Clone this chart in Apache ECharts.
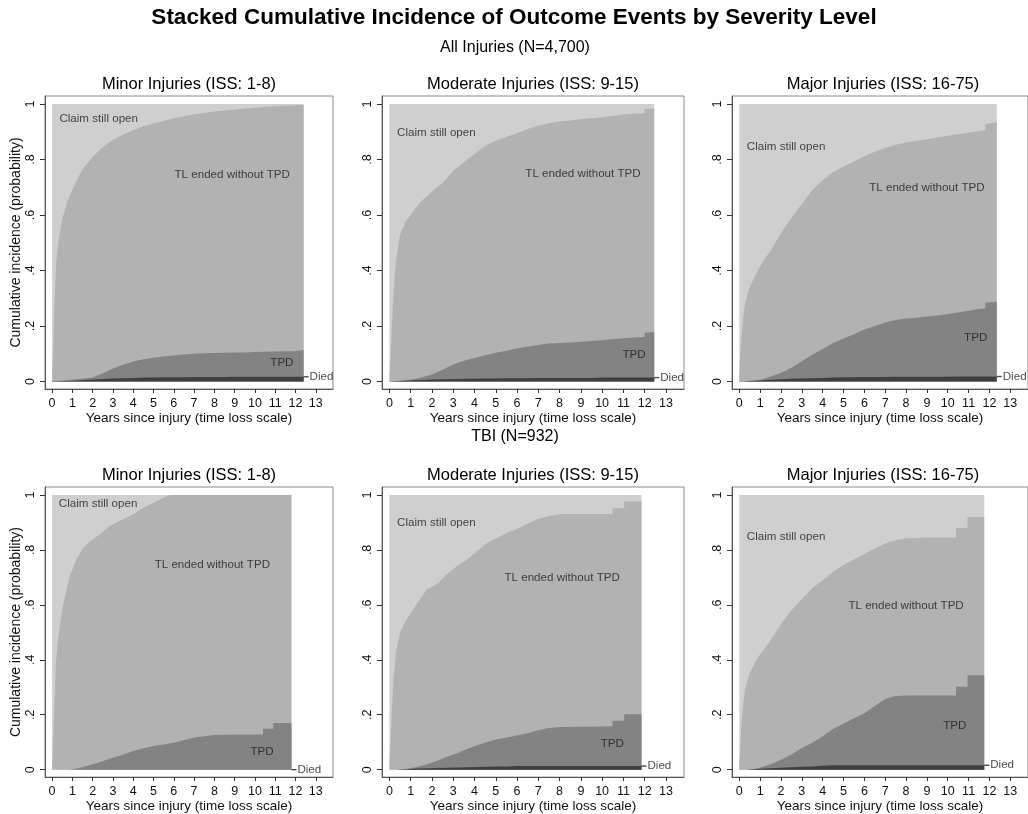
<!DOCTYPE html>
<html><head><meta charset="utf-8">
<script src="https://cdn.jsdelivr.net/npm/echarts@6/dist/echarts.min.js"></script>
<style>html,body{margin:0;padding:0;background:#fff}#c{width:1028px;height:814px}</style>
</head><body><div id="c"></div>
<script>
// ---------- text ----------
const mainTitle = 'Stacked Cumulative Incidence of Outcome Events by Severity Level';
const groupTitles = ['All Injuries (N=4,700)', 'TBI (N=932)'];
const panelTitles = ['Minor Injuries (ISS: 1-8)', 'Moderate Injuries (ISS: 9-15)', 'Major Injuries (ISS: 16-75)',
                     'Minor Injuries (ISS: 1-8)', 'Moderate Injuries (ISS: 9-15)', 'Major Injuries (ISS: 16-75)'];
const layerNames = ['Claim still open', 'TL ended without TPD', 'TPD', 'Died'];
const xAxisTitle = 'Years since injury (time loss scale)';
const yAxisTitle = 'Cumulative incidence (probability)';
const xTicks = [0,1,2,3,4,5,6,7,8,9,10,11,12,13];
const yTicks = [0, 0.2, 0.4, 0.6, 0.8, 1];
const yTickLabels = ['0', '.2', '.4', '.6', '.8', '1'];

// ---------- data: cumulative boundaries (top of each stacked layer) ----------
// All injuries, minor
const allMinorT    = [0,0.05,0.1,0.2,0.3,0.5,0.75,1,1.25,1.5,2,2.5,3,3.5,4,4.5,5,5.5,6,6.5,7,7.5,8,8.5,9,9.5,10,10.5,11,11.5,11.9,11.9,12.4];
const allMinorTL   = [0.02,0.1,0.25,0.43,0.5,0.585,0.65,0.69,0.73,0.765,0.81,0.845,0.87,0.89,0.906,0.92,0.93,0.94,0.949,0.956,0.963,0.968,0.973,0.977,0.98,0.984,0.987,0.99,0.992,0.994,0.995,0.996,0.997];
const allMinorTPD  = [0.002,0.002,0.003,0.003,0.003,0.004,0.005,0.006,0.008,0.01,0.014,0.03,0.047,0.06,0.072,0.08,0.086,0.09,0.094,0.097,0.1,0.102,0.103,0.104,0.105,0.105,0.106,0.107,0.108,0.109,0.109,0.114,0.114];
const allMinorDied = [0,0,0.001,0.001,0.001,0.002,0.002,0.003,0.004,0.005,0.007,0.009,0.011,0.012,0.013,0.014,0.014,0.015,0.015,0.015,0.016,0.016,0.016,0.016,0.017,0.017,0.017,0.017,0.017,0.017,0.017,0.017,0.017];
// All injuries, moderate
const allModT    = [0,0.05,0.1,0.2,0.3,0.5,0.75,1,1.25,1.5,2,2.5,3,3.5,4,4.5,5,5.5,6,6.5,7,7.5,8,8.5,9,9.5,10,10.5,11,11.5,12,12,12.45];
const allModTL   = [0.02,0.08,0.18,0.33,0.43,0.53,0.575,0.6,0.627,0.65,0.685,0.715,0.76,0.79,0.82,0.85,0.868,0.882,0.895,0.91,0.922,0.931,0.938,0.941,0.945,0.949,0.952,0.957,0.962,0.965,0.967,0.982,0.984];
const allModTPD  = [0.002,0.002,0.002,0.002,0.002,0.003,0.005,0.007,0.01,0.014,0.025,0.042,0.061,0.075,0.085,0.095,0.104,0.111,0.119,0.126,0.132,0.137,0.139,0.141,0.143,0.146,0.149,0.153,0.156,0.159,0.16,0.176,0.178];
const allModDied = [0,0,0,0.001,0.001,0.002,0.003,0.004,0.005,0.005,0.007,0.008,0.009,0.01,0.01,0.011,0.011,0.012,0.012,0.012,0.013,0.013,0.013,0.013,0.013,0.013,0.014,0.014,0.014,0.014,0.014,0.014,0.014];
// All injuries, major
const allMajT    = [0,0.05,0.1,0.2,0.3,0.5,0.75,1,1.25,1.5,2,2.5,3,3.5,4,4.5,5,5.5,6,6.5,7,7.5,8,8.5,9,9.5,10,10.5,11,11.5,11.8,11.8,12.35];
const allMajTL   = [0.02,0.1,0.16,0.24,0.29,0.34,0.38,0.415,0.445,0.47,0.535,0.59,0.64,0.69,0.725,0.755,0.775,0.793,0.812,0.828,0.842,0.853,0.861,0.868,0.873,0.879,0.886,0.891,0.897,0.903,0.905,0.927,0.935];
const allMajTPD  = [0.002,0.002,0.002,0.002,0.002,0.003,0.004,0.006,0.012,0.018,0.031,0.05,0.073,0.096,0.117,0.139,0.155,0.17,0.187,0.2,0.213,0.222,0.227,0.23,0.234,0.238,0.243,0.249,0.255,0.261,0.263,0.285,0.287];
const allMajDied = [0,0,0,0,0.001,0.002,0.003,0.004,0.005,0.006,0.008,0.01,0.011,0.012,0.013,0.014,0.015,0.015,0.016,0.016,0.016,0.017,0.017,0.017,0.017,0.017,0.017,0.018,0.018,0.018,0.018,0.018,0.018];
// TBI, minor
const tbiMinorT    = [0,0.05,0.1,0.18,0.29,0.54,0.87,1.2,1.52,1.85,2.34,2.83,3.3,3.97,4.46,4.95,5.44,5.77,6,7,8,9,10,10.4,10.4,10.9,10.9,11.8];
const tbiMinorTL   = [0.02,0.1,0.21,0.38,0.477,0.6,0.705,0.765,0.807,0.83,0.856,0.886,0.904,0.928,0.952,0.97,0.988,0.999,1,1,1,1,1,1,1,1,1,1];
const tbiMinorTPD  = [0,0,0,0,0,0,0,0.004,0.01,0.016,0.027,0.04,0.05,0.067,0.077,0.085,0.091,0.095,0.098,0.117,0.126,0.128,0.128,0.128,0.149,0.149,0.17,0.17];
const tbiMinorDied = [0,0,0,0,0,0,0,0,0,0,0,0,0,0,0,0,0,0,0,0,0,0,0,0,0,0,0,0];
// TBI, moderate
const tbiModT    = [0,0.05,0.11,0.19,0.31,0.5,0.82,1.29,1.76,2.23,2.7,3.18,3.65,4.12,4.6,5.06,5.53,6,6.48,6.95,7.42,8.05,9,10.49,10.49,11.04,11.04,11.85];
const tbiModTL   = [0.02,0.1,0.21,0.33,0.43,0.5,0.549,0.603,0.657,0.675,0.711,0.741,0.765,0.795,0.825,0.844,0.862,0.876,0.895,0.912,0.922,0.931,0.931,0.931,0.952,0.952,0.976,0.976];
const tbiModTPD  = [0,0,0,0,0,0.001,0.003,0.01,0.02,0.032,0.047,0.06,0.075,0.089,0.101,0.111,0.117,0.124,0.133,0.143,0.151,0.155,0.156,0.158,0.178,0.178,0.202,0.202];
const tbiModDied = [0,0,0,0,0,0.001,0.002,0.004,0.005,0.006,0.007,0.008,0.009,0.01,0.011,0.012,0.012,0.013,0.013,0.013,0.013,0.013,0.013,0.013,0.013,0.013,0.013,0.013];
// TBI, major
const tbiMajT    = [0,0.05,0.1,0.2,0.3,0.5,0.75,1,1.5,2,2.5,3,3.5,4,4.5,5,5.5,6,6.5,7,7.5,8,9,10.4,10.4,10.95,10.95,11.75];
const tbiMajTL   = [0.02,0.08,0.16,0.25,0.3,0.35,0.39,0.42,0.47,0.53,0.58,0.62,0.66,0.69,0.72,0.745,0.765,0.785,0.805,0.823,0.835,0.842,0.845,0.845,0.88,0.88,0.92,0.92];
const tbiMajTPD  = [0,0,0,0,0,0.001,0.003,0.008,0.02,0.036,0.055,0.079,0.098,0.122,0.148,0.167,0.187,0.205,0.232,0.257,0.268,0.27,0.27,0.27,0.302,0.302,0.344,0.344];
const tbiMajDied = [0,0,0,0,0,0.001,0.002,0.003,0.005,0.007,0.009,0.011,0.012,0.014,0.016,0.016,0.016,0.016,0.016,0.016,0.016,0.016,0.016,0.016,0.016,0.016,0.016,0.016];

const panels = [
  {t: allMinorT, tl: allMinorTL, tpd: allMinorTPD, died: allMinorDied},
  {t: allModT,   tl: allModTL,   tpd: allModTPD,   died: allModDied},
  {t: allMajT,   tl: allMajTL,   tpd: allMajTPD,   died: allMajDied},
  {t: tbiMinorT, tl: tbiMinorTL, tpd: tbiMinorTPD, died: tbiMinorDied},
  {t: tbiModT,   tl: tbiModTL,   tpd: tbiModTPD,   died: tbiModDied},
  {t: tbiMajT,   tl: tbiMajTL,   tpd: tbiMajTPD,   died: tbiMajDied}
];

// ---------- layout / style ----------
const FONT = "'Liberation Sans', Arial, Helvetica, sans-serif";
const colLeft = [45, 382, 732];
const colWidth = [288, 302, 302];
const rowTop = [96, 487];
const rowHeight = 293;
const layerColors = ['#cfcfcf', '#b2b2b2', '#838383', '#3f3f3f'];
// label anchor positions in data coordinates: [years, probability]
const labelPos = [
  {claim: [0.36, 0.946], tl: [8.88, 0.745], tpd: [11.33, 0.068]},
  {claim: [0.36, 0.897], tl: [9.1, 0.748],  tpd: [11.5, 0.097]},
  {claim: [0.36, 0.845], tl: [9.0, 0.698],  tpd: [11.34, 0.158]},
  {claim: [0.33, 0.968], tl: [7.9, 0.747],  tpd: [10.35, 0.065]},
  {claim: [0.36, 0.899], tl: [8.12, 0.697], tpd: [10.48, 0.094]},
  {claim: [0.36, 0.848], tl: [8.0, 0.596],  tpd: [10.34, 0.159]}
];

const grids = [], xAxes = [], yAxes = [], series = [], graphics = [];
const textStyle = {fontFamily: FONT, color: '#111'};

graphics.push({type: 'text', x: 514, y: 18, style: {text: mainTitle, font: `bold 22.5px ${FONT}`, fill: '#000', align: 'center', verticalAlign: 'middle'}});
graphics.push({type: 'text', x: 515, y: 48, style: {text: groupTitles[0], font: `16px ${FONT}`, fill: '#000', align: 'center', verticalAlign: 'middle'}});
graphics.push({type: 'text', x: 515, y: 437, style: {text: groupTitles[1], font: `16px ${FONT}`, fill: '#000', align: 'center', verticalAlign: 'middle'}});

panels.forEach((p, i) => {
  const row = Math.floor(i / 3), col = i % 3;
  grids.push({left: colLeft[col], top: rowTop[row], width: colWidth[col], height: rowHeight,
    show: true, borderColor: '#8a8a8a', borderWidth: 1, backgroundColor: '#fff', containLabel: false});
  graphics.push({type: 'text', x: colLeft[col] + colWidth[col] / 2, y: rowTop[row] - 12,
    style: {text: panelTitles[i], font: `16.5px ${FONT}`, fill: '#000', align: 'center', verticalAlign: 'middle'}});
  xAxes.push({type: 'value', gridIndex: i, min: -0.35, max: 13.85,
    axisLine: {show: true, onZero: false, lineStyle: {color: '#555', width: 1}},
    axisTick: {show: true, customValues: xTicks, length: 4, lineStyle: {color: '#333'}},
    axisLabel: {show: true, customValues: xTicks, fontSize: 12.5, fontFamily: FONT, color: '#111', margin: 8},
    splitLine: {show: false},
    name: xAxisTitle, nameLocation: 'middle', nameGap: 21,
    nameTextStyle: {fontSize: 13.5, fontFamily: FONT, color: '#111'}});
  yAxes.push({type: 'value', gridIndex: i, min: -0.027, max: 1.029,
    axisLine: {show: true, onZero: false, lineStyle: {color: '#555', width: 1}},
    axisTick: {show: true, customValues: yTicks, length: 5, lineStyle: {color: '#333'}},
    axisLabel: {show: true, customValues: yTicks, rotate: 90, fontSize: 12.5, fontFamily: FONT, color: '#111', margin: 8,
      formatter: v => { const k = yTicks.findIndex(y => Math.abs(y - v) < 1e-9); return k >= 0 ? yTickLabels[k] : ''; }},
    splitLine: {show: false},
    name: col === 0 ? yAxisTitle : '', nameLocation: 'middle', nameGap: 21, nameRotate: 90,
    nameTextStyle: {fontSize: 14, fontFamily: FONT, color: '#111'}});

  const layers = [p.t.map(() => 1), p.tl, p.tpd, p.died];
  layers.forEach((arr, k) => {
    series.push({type: 'line', name: layerNames[k], xAxisIndex: i, yAxisIndex: i,
      data: p.t.map((x, j) => [x, arr[j]]), symbol: 'none', showSymbol: false,
      lineStyle: {width: 0, opacity: 0}, areaStyle: {color: layerColors[k], opacity: 1, origin: 0},
      silent: true, animation: false, z: 2 + k * 0.01});
  });

  const lp = labelPos[i];
  const lab = (txt, pos) => ({fontFamily: FONT, fontSize: 11.6, color: '#1a1a1a', show: true, formatter: txt, position: pos, distance: 0});
  const tEnd = p.t[p.t.length - 1], dEnd = p.died[p.died.length - 1];
  series.push({type: 'scatter', xAxisIndex: i, yAxisIndex: i, silent: true, animation: false, clip: false, z: 5,
    symbolSize: 0,
    data: [
      {value: lp.claim, label: lab(layerNames[0], 'right')},
      {value: lp.tl, label: lab(layerNames[1], 'inside')},
      {value: lp.tpd, label: lab(layerNames[2], 'inside')},
      {value: [tEnd, dEnd], symbol: 'rect', symbolSize: [5, 1.4], symbolOffset: [2.5, 0],
       itemStyle: {color: '#222'}, label: Object.assign(lab(layerNames[3], 'right'), {distance: 1})}
    ]});
});

const chart = echarts.init(document.getElementById('c'), null, {renderer: 'canvas'});
chart.setOption({
  backgroundColor: '#fff',
  animation: false,
  textStyle: textStyle,
  grid: grids, xAxis: xAxes, yAxis: yAxes, series: series,
  graphic: graphics
});
</script></body></html>
